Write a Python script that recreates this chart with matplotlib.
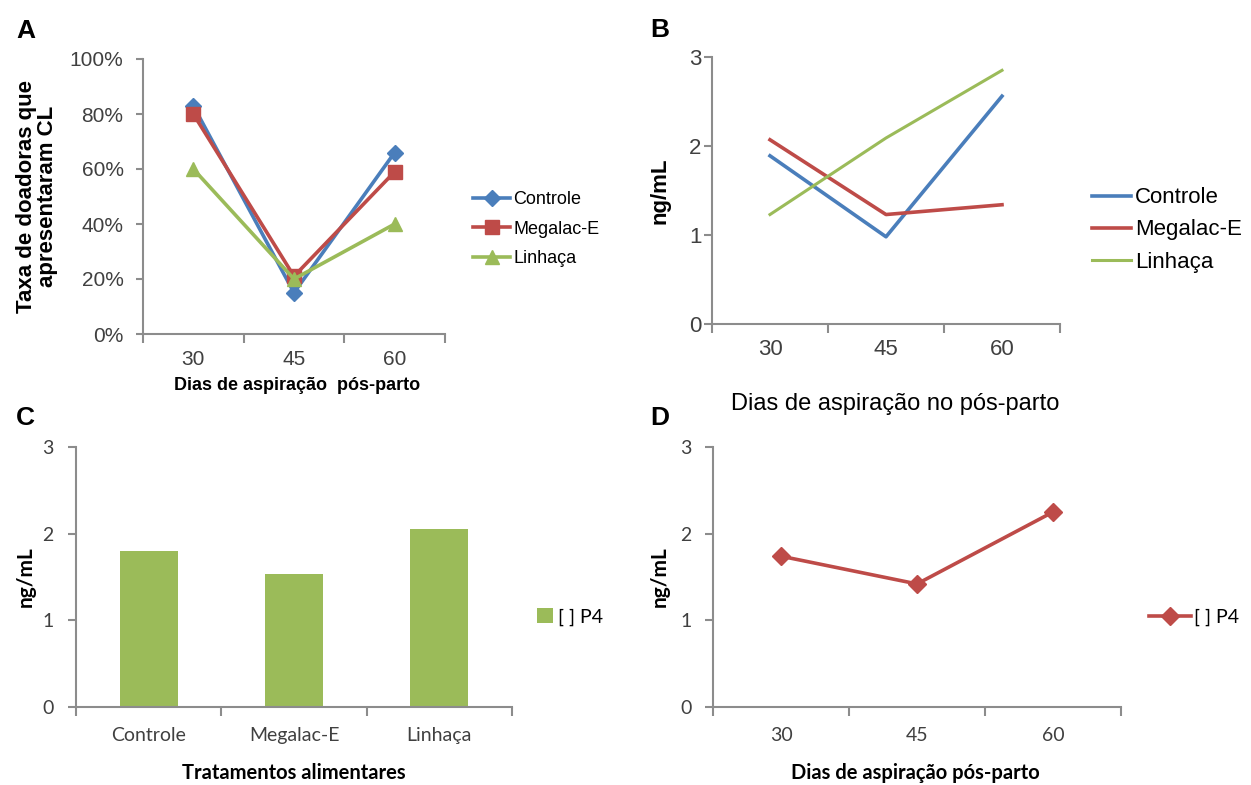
import numpy as np
import matplotlib
matplotlib.use("Agg")
import matplotlib.pyplot as plt
from matplotlib.ticker import PercentFormatter

# data
dias = ["30", "45", "60"]
tratamentos = ["Controle", "Megalac-E", "Linhaça"]

# A: taxa de doadoras que apresentaram CL (fracao)
taxa_controle = [0.83, 0.15, 0.66]
taxa_megalac = [0.80, 0.21, 0.59]
taxa_linhaca = [0.60, 0.20, 0.40]

# B: P4 (ng/mL) por dia e tratamento
p4_controle = [1.89, 0.98, 2.56]
p4_megalac = [2.07, 1.23, 1.34]
p4_linhaca = [1.23, 2.09, 2.85]

# C: P4 medio por tratamento
p4_trat = [1.80, 1.53, 2.05]

# D: P4 medio por dia
p4_dia = [1.74, 1.42, 2.25]

BLUE = "#4a7ebb"
RED = "#be4b48"
GREEN = "#9bbb59"
GRAY = "#8c8c8c"
TXT = "#404040"

ARIAL = "Liberation Sans"
CALIBRI = "Lato"

W, H = 1251, 785
fig = plt.figure(figsize=(W / 100, H / 100), dpi=100)


def rect(x0, y0, x1, y1):
    # pixel box -> figure fraction
    return [x0 / W, 1 - y1 / H, (x1 - x0) / W, (y1 - y0) / H]


def style(ax, labels, font, size, xpad, ylen, ypad):
    n = len(labels)
    ax.set_xlim(-0.5, n - 0.5)
    ax.set_xticks(np.arange(n + 1) - 0.5)
    ax.set_xticklabels([])
    ax.set_xticks(np.arange(n), minor=True)
    ax.set_xticklabels(labels, minor=True, fontfamily=font, fontsize=size, color=TXT)
    ax.tick_params(axis="x", which="major", length=6.5, width=1.5, color=GRAY)
    ax.tick_params(axis="x", which="minor", length=0, pad=xpad)
    ax.tick_params(axis="y", length=ylen, width=1.5, color=GRAY, pad=ypad,
                   labelsize=size, labelcolor=TXT)
    for lab in ax.get_yticklabels():
        lab.set_fontfamily(font)
    for s in ["top", "right"]:
        ax.spines[s].set_visible(False)
    for s in ["left", "bottom"]:
        ax.spines[s].set_color(GRAY)
        ax.spines[s].set_linewidth(1.5)


# ---- A ----
axA = fig.add_axes(rect(143, 59, 445, 334))
x = np.arange(len(dias))
axA.plot(x, taxa_controle, color=BLUE, lw=2.6, marker="D", ms=8, label="Controle")
axA.plot(x, taxa_megalac, color=RED, lw=2.6, marker="s", ms=10, label="Megalac-E")
axA.plot(x, taxa_linhaca, color=GREEN, lw=2.6, marker="^", ms=10, label="Linhaça")
axA.set_ylim(0, 1)
axA.set_yticks(np.arange(0, 1.01, 0.2))
axA.yaxis.set_major_formatter(PercentFormatter(1.0, decimals=0))
style(axA, dias, ARIAL, 15, 11.5, 5, 9)
axA.set_ylabel("Taxa de doadoras que\napresentaram CL", fontfamily=ARIAL,
               fontsize=16, fontweight="bold", linespacing=1.05)
axA.yaxis.set_label_coords(-0.28, 0.5)
axA.set_xlabel("Dias de aspiração  pós-parto", fontfamily=ARIAL, fontsize=13,
               fontweight="bold")
axA.xaxis.set_label_coords(0.51, -0.155)
axA.legend(loc="center left", bbox_to_anchor=(473 / W, 1 - 229 / H),
           bbox_transform=fig.transFigure, frameon=False, borderpad=0,
           borderaxespad=0, handlelength=2.05, handletextpad=0.2,
           labelspacing=0.7, prop={"family": ARIAL, "size": 13})

# ---- B ----
axB = fig.add_axes(rect(712, 57, 1060, 324))
axB.plot(x, p4_controle, color=BLUE, lw=2.6, label="Controle")
axB.plot(x, p4_megalac, color=RED, lw=2.6, label="Megalac-E")
axB.plot(x, p4_linhaca, color=GREEN, lw=2.2, label="Linhaça")
axB.set_ylim(0, 3)
axB.set_yticks([0, 1, 2, 3])
style(axB, dias, ARIAL, 16, 11, 6, 1.5)
axB.set_ylabel("ng/mL", fontfamily=ARIAL, fontsize=16, fontweight="bold")
axB.yaxis.set_label_coords(-0.12, 0.5)
axB.set_xlabel("Dias de aspiração no pós-parto", fontfamily=ARIAL, fontsize=17)
axB.xaxis.set_label_coords(0.526, -0.26)
axB.legend(loc="center left", bbox_to_anchor=(1092 / W, 1 - 230 / H),
           bbox_transform=fig.transFigure, frameon=False, borderpad=0,
           borderaxespad=0, handlelength=1.75, handletextpad=0.2,
           labelspacing=0.5, prop={"family": ARIAL, "size": 16})

# ---- C ----
axC = fig.add_axes(rect(76, 447, 512, 707))
xc = np.arange(len(tratamentos))
axC.bar(xc, p4_trat, width=0.4, color=GREEN, label="[ ] P4")
axC.set_ylim(0, 3)
axC.set_yticks([0, 1, 2, 3])
style(axC, tratamentos, CALIBRI, 14, 14.5, 6, 10)
axC.set_ylabel("ng/mL", fontfamily=CALIBRI, fontsize=15, fontweight="bold")
axC.yaxis.set_label_coords(-0.092, 0.5)
axC.set_xlabel("Tratamentos alimentares", fontfamily=CALIBRI, fontsize=14.5,
               fontweight="bold")
axC.xaxis.set_label_coords(0.5, -0.215)
axC.legend(loc="center left", bbox_to_anchor=(537 / W, 1 - 617 / H),
           bbox_transform=fig.transFigure, frameon=False, borderpad=0,
           borderaxespad=0, handlelength=0.8, handleheight=0.8,
           handletextpad=0.3, prop={"family": CALIBRI, "size": 14})

# ---- D ----
axD = fig.add_axes(rect(713, 447, 1121, 707))
axD.plot(x, p4_dia, color=RED, lw=2.6, marker="D", ms=9, label="[ ] P4")
axD.set_ylim(0, 3)
axD.set_yticks([0, 1, 2, 3])
style(axD, dias, CALIBRI, 14, 14.5, 6, 9.5)
axD.set_ylabel("ng/mL", fontfamily=CALIBRI, fontsize=15, fontweight="bold")
axD.yaxis.set_label_coords(-0.105, 0.5)
axD.set_xlabel("Dias de aspiração pós-parto", fontfamily=CALIBRI, fontsize=14.5,
               fontweight="bold")
axD.xaxis.set_label_coords(0.495, -0.215)
axD.legend(loc="center left", bbox_to_anchor=(1149 / W, 1 - 617 / H),
           bbox_transform=fig.transFigure, frameon=False, borderpad=0,
           borderaxespad=0, handlelength=2.15, handletextpad=0.15,
           prop={"family": CALIBRI, "size": 14})

# panel letters
for letter, px, py in [("A", 16, 31), ("B", 650, 30), ("C", 16, 418), ("D", 650, 418)]:
    fig.text(px / W, 1 - py / H, letter, fontfamily=ARIAL, fontsize=19,
             fontweight="bold", ha="left", va="center")

fig.savefig("out.png", dpi=100)
